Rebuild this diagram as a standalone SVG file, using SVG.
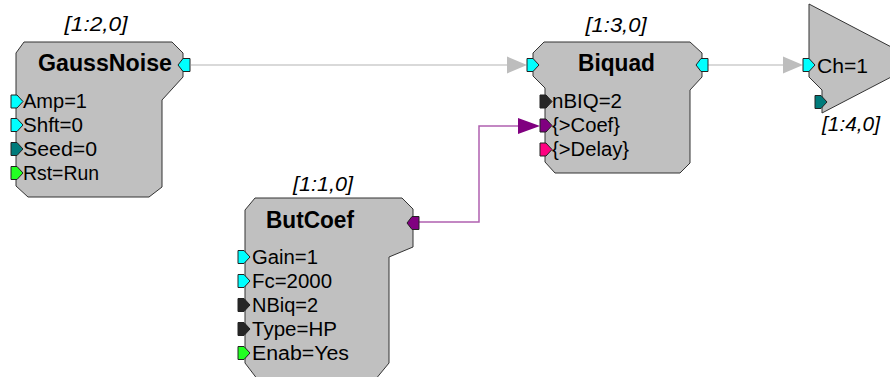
<svg xmlns="http://www.w3.org/2000/svg" width="890" height="377" viewBox="0 0 890 377">
<style>
.body{fill:#c0c0c0;stroke:#333;stroke-width:1}
.t{font-family:"Liberation Sans",Arial,sans-serif;font-size:20px;fill:#000}
.b{font-family:"Liberation Sans",Arial,sans-serif;font-size:23px;font-weight:bold;fill:#000}
.i{font-family:"Liberation Sans",Arial,sans-serif;font-size:20px;font-style:italic;fill:#000}
.p{stroke:#222;stroke-width:1}
.cy{fill:#00ffff}.tl{fill:#007b7b}.gr{fill:#22ff22}.dk{fill:#262626}.pu{fill:#800080}.pk{fill:#ff0080}
</style>
<defs>
<polygon id="pin" points="0,-6.5 6,-6.5 12,0 6,6.5 0,6.5"/>
<polygon id="pout" points="0,0 5,-6.5 12,-6.5 12,6.5 5,6.5"/>
</defs>
<g id="connectors">
<line x1="191" y1="65" x2="510" y2="65" stroke="#d9d9d9" stroke-width="2"/>
<polygon points="507,56.5 527,65 507,73.5" fill="#bdbdbd"/>
<line x1="708" y1="65" x2="786" y2="65" stroke="#d9d9d9" stroke-width="2"/>
<polygon points="783,56.5 803,65 783,73.5" fill="#bdbdbd"/>
<polyline points="419,222 479,222 479,126 520,126" fill="none" stroke="#b060b0" stroke-width="1.5"/>
<polygon points="518,118 540,126 518,134" fill="#800080"/>
</g>
<g id="GaussNoise">
<text class="i" x="96" y="31" text-anchor="middle" textLength="63" lengthAdjust="spacingAndGlyphs">[1:2,0]</text>
<path class="body" d="M24,42 L172,42 L183,53 L183,77 L162,100 L162,187 L149,197 L28,197 L16,186 L16,53 Z"/>
<text class="b" x="38" y="71" textLength="134" lengthAdjust="spacingAndGlyphs">GaussNoise</text>
<use href="#pout" x="178" y="65" class="p cy"/>
<use href="#pin" x="11" y="101.5" class="p cy"/>
<use href="#pin" x="11" y="125" class="p cy"/>
<use href="#pin" x="11" y="149" class="p tl"/>
<use href="#pin" x="11" y="173" class="p gr"/>
<text class="t" x="23" y="108" textLength="64" lengthAdjust="spacingAndGlyphs">Amp=1</text>
<text class="t" x="23" y="132" textLength="60" lengthAdjust="spacingAndGlyphs">Shft=0</text>
<text class="t" x="23" y="156" textLength="74" lengthAdjust="spacingAndGlyphs">Seed=0</text>
<text class="t" x="23" y="180" textLength="76" lengthAdjust="spacingAndGlyphs">Rst=Run</text>
</g>
<g id="Biquad">
<text class="i" x="616" y="32" text-anchor="middle" textLength="61" lengthAdjust="spacingAndGlyphs">[1:3,0]</text>
<path class="body" d="M544,42 L690,42 L702,53 L702,77 L690,90 L690,163 L680,173 L555,173 L545,162 L545,88 L533,76 L533,53 Z"/>
<text class="b" x="578" y="71" textLength="77" lengthAdjust="spacingAndGlyphs">Biquad</text>
<use href="#pin" x="527" y="65" class="p cy"/>
<use href="#pout" x="696" y="65" class="p cy"/>
<use href="#pin" x="540" y="101.5" class="p dk"/>
<use href="#pin" x="540" y="125.5" class="p pu"/>
<use href="#pin" x="540" y="149.5" class="p pk"/>
<text class="t" x="552" y="108" textLength="70" lengthAdjust="spacingAndGlyphs">nBIQ=2</text>
<text class="t" x="552" y="132" textLength="68" lengthAdjust="spacingAndGlyphs">{&gt;Coef}</text>
<text class="t" x="552" y="156" textLength="77" lengthAdjust="spacingAndGlyphs">{&gt;Delay}</text>
</g>
<g id="ButCoef">
<text class="i" x="323" y="191" text-anchor="middle" textLength="60" lengthAdjust="spacingAndGlyphs">[1:1,0]</text>
<path class="body" d="M255,198 L402,198 L413,209 L413,247 L389,257 L389,363 L375,380 L258,380 L245,363 L245,210 Z"/>
<text class="b" x="266" y="228" textLength="88" lengthAdjust="spacingAndGlyphs">ButCoef</text>
<use href="#pout" x="407" y="223" class="p pu"/>
<use href="#pin" x="238" y="257" class="p cy"/>
<use href="#pin" x="238" y="281" class="p cy"/>
<use href="#pin" x="238" y="305" class="p dk"/>
<use href="#pin" x="238" y="329" class="p dk"/>
<use href="#pin" x="238" y="353" class="p gr"/>
<text class="t" x="252" y="264" textLength="66" lengthAdjust="spacingAndGlyphs">Gain=1</text>
<text class="t" x="252" y="288" textLength="80" lengthAdjust="spacingAndGlyphs">Fc=2000</text>
<text class="t" x="252" y="312" textLength="66" lengthAdjust="spacingAndGlyphs">NBiq=2</text>
<text class="t" x="252" y="336" textLength="85" lengthAdjust="spacingAndGlyphs">Type=HP</text>
<text class="t" x="252" y="360" textLength="97" lengthAdjust="spacingAndGlyphs">Enab=Yes</text>
</g>
<g id="Output">
<path class="body" d="M809,4 L920,62 L822,113 L822,90 L809,77 Z"/>
<use href="#pin" x="803" y="65" class="p cy"/>
<use href="#pin" x="815" y="102" class="p tl"/>
<text class="t" x="817" y="73" textLength="51" lengthAdjust="spacingAndGlyphs">Ch=1</text>
<text class="i" x="851" y="131" text-anchor="middle" textLength="58" lengthAdjust="spacingAndGlyphs">[1:4,0]</text>
</g>
</svg>
